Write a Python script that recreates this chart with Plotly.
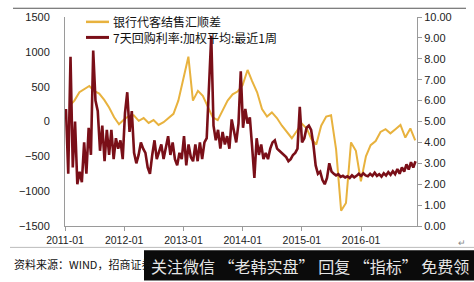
import pandas as pd
import plotly.graph_objects as go

# ---------------- data ----------------
# 银行代客结售汇顺差 (monthly, left axis), month-end dates from 2011-01
fx_dates = pd.date_range("2011-01-31", periods=71, freq="ME")
fx_values = [
    230, 300, 420, 470, 510, 440, 400, 310, 200, 60, -40, 30,
    80, 90, 10, 50, -20, 20, -50, -10, 50, 110, 300, 640,
    930, 300, 440, 370, 200, 60, 20, 160, 300, 390, 430, 520,
    740, 580, 420, 180, 70, 130, 50, -60, -150, -240, -140, -30,
    -100, -250, -330, -60, 70, 90, -400, -1280, -1170, -300, -420, -860,
    -500, -340, -280, -150, -110, -170, -110, -50, -230, -100, -270,
]

# 7天回购利率:加权平均:最近1周 (right axis), sampled every two weeks
repo_dates = pd.date_range("2011-01-07", periods=155, freq="14D")
repo_values = [
    5.6, 2.5, 8.1, 2.8, 5.0, 2.0, 2.6, 2.1, 4.0, 2.5,
    4.7, 3.4, 8.4, 6.0, 5.5, 3.6, 4.8, 3.1, 4.6, 3.4,
    4.6, 3.2, 4.2, 3.7, 4.1, 3.2, 5.4, 6.4, 4.5, 5.5,
    3.5, 3.0, 3.4, 4.0, 3.7, 3.5, 2.8, 2.5, 3.4, 4.1,
    3.2, 3.6, 3.9, 3.2, 3.8, 4.3, 3.4, 4.0, 3.2, 2.9,
    3.5, 3.2, 4.3, 2.9, 3.9, 3.3, 3.1, 3.9, 3.1, 4.0,
    3.2, 4.0, 4.2, 6.9, 9.1, 4.8, 4.1, 4.6, 3.7, 4.5,
    3.9, 4.3, 3.7, 5.1, 4.6, 4.0, 4.9, 7.4, 4.7, 5.6,
    4.9, 5.2, 3.8, 2.3, 4.2, 3.4, 3.9, 3.2, 3.5, 3.2,
    3.7, 4.0, 4.1, 3.7, 3.6, 3.5, 3.4, 3.3, 3.1, 3.2,
    3.4, 3.5, 3.7, 5.7, 4.0, 4.2, 4.7, 4.8, 4.6, 3.9,
    2.9, 2.5, 2.6, 2.2, 2.0, 2.3, 3.0, 2.6, 2.5, 2.42,
    2.48, 2.35, 2.4, 2.32, 2.38, 2.3, 2.42, 2.33, 2.4, 2.5,
    2.4, 2.52, 2.42, 2.38, 2.5, 2.4, 2.55, 2.4, 2.48, 2.36,
    2.52, 2.42, 2.58, 2.45, 2.62, 2.48, 2.72, 2.5, 2.8, 2.6,
    2.95, 2.7, 3.05, 2.8, 3.1,
]

fx_name = "银行代客结售汇顺差"
repo_name = "7天回购利率:加权平均:最近1周"
source_text = "资料来源：WIND，招商证券"
banner_text = "关注微信 “老韩实盘” 回复 “指标” 免费领"

# ---------------- geometry helpers ----------------
W, H = 474, 282
ML, MR, MT, MB = 65, 57, 11, 56
PW, PH = W - ML - MR, H - MT - MB


def px(x):
    return (x - ML) / PW


def py(y):
    return 1 - (y - MT) / PH


CN = "Noto Sans CJK SC"
LAT = "Liberation Sans, Arial, sans-serif"
FX_COL = "#E8B23E"
REPO_COL = "#7A0F18"

fig = go.Figure()
fig.add_trace(go.Scatter(
    x=fx_dates, y=fx_values, name=fx_name, mode="lines",
    line=dict(color=FX_COL, width=2), yaxis="y",
))
fig.add_trace(go.Scatter(
    x=repo_dates, y=repo_values, name=repo_name, mode="lines",
    line=dict(color=REPO_COL, width=2.6), yaxis="y2",
))

axis_col = "#9a9a9a"

# hand-placed legend (tighter rows than plotly's own legend allows)
legend_shapes = [
    dict(type="line", xref="paper", yref="paper",
         x0=px(86), x1=px(109), y0=py(16), y1=py(16),
         line=dict(color=FX_COL, width=2.5)),
    dict(type="line", xref="paper", yref="paper",
         x0=px(86), x1=px(109), y0=py(32), y1=py(32),
         line=dict(color=REPO_COL, width=3)),
]
legend_ann = [
    dict(text=fx_name, xref="paper", yref="paper",
         x=px(111), y=py(16), xanchor="left", yanchor="middle",
         showarrow=False, font=dict(family=CN, size=12, color="#111")),
    dict(text=repo_name, xref="paper", yref="paper",
         x=px(111), y=py(32), xanchor="left", yanchor="middle",
         showarrow=False, font=dict(family=CN, size=12, color="#111")),
]

fig.update_layout(
    width=W, height=H,
    margin=dict(l=ML, r=MR, t=MT, b=MB),
    paper_bgcolor="white", plot_bgcolor="white",
    showlegend=False,
    xaxis=dict(
        type="date", range=["2011-01-01", "2016-12-11"],
        tick0="2011-01-01", dtick="M12", tickformat="%Y-%m",
        showline=True, linecolor=axis_col, linewidth=1,
        ticks="outside", ticklen=4, tickcolor=axis_col,
        showgrid=False, zeroline=False,
        tickfont=dict(family=LAT, size=10.5, color="#222"),
    ),
    yaxis=dict(
        range=[-1500, 1500], dtick=500, tick0=0,
        showline=True, linecolor=axis_col, linewidth=1,
        ticks="", showgrid=False, zeroline=False,
        ticklabelstandoff=12,
        tickfont=dict(family=LAT, size=11, color="#222"),
    ),
    yaxis2=dict(
        range=[0, 10], dtick=1, tick0=0, tickformat=".2f",
        overlaying="y", side="right",
        showline=True, linecolor=axis_col, linewidth=1,
        ticks="outside", ticklen=4, tickcolor=axis_col,
        showgrid=False, zeroline=False,
        tickfont=dict(family=LAT, size=11, color="#222"),
    ),
    shapes=legend_shapes + [
        dict(type="line", xref="paper", yref="paper",
             x0=px(13), x1=px(466), y0=py(2), y1=py(2),
             line=dict(color="#555", width=1)),
        dict(type="line", xref="paper", yref="paper",
             x0=px(10), x1=px(474), y0=py(248), y1=py(248),
             line=dict(color="#bbb", width=1)),
        dict(type="rect", xref="paper", yref="paper",
             x0=px(144), x1=px(474), y0=py(251), y1=py(282),
             fillcolor="#0b0b0b", line=dict(width=0), layer="above"),
    ],
    annotations=legend_ann + [
        dict(text=source_text, xref="paper", yref="paper",
             x=px(12), y=py(265), xanchor="left", yanchor="middle",
             showarrow=False, font=dict(family=CN, size=11, color="#111")),
        dict(text=banner_text, xref="paper", yref="paper",
             x=px(310), y=py(267), xanchor="center", yanchor="middle",
             showarrow=False, font=dict(family=CN, size=16, color="#e6e6e6")),
        dict(text="↵", xref="paper", yref="paper",
             x=px(462), y=py(244), xanchor="center", yanchor="middle",
             showarrow=False, font=dict(family=LAT, size=9, color="#888")),
    ],
)

fig.write_html("out.html")
